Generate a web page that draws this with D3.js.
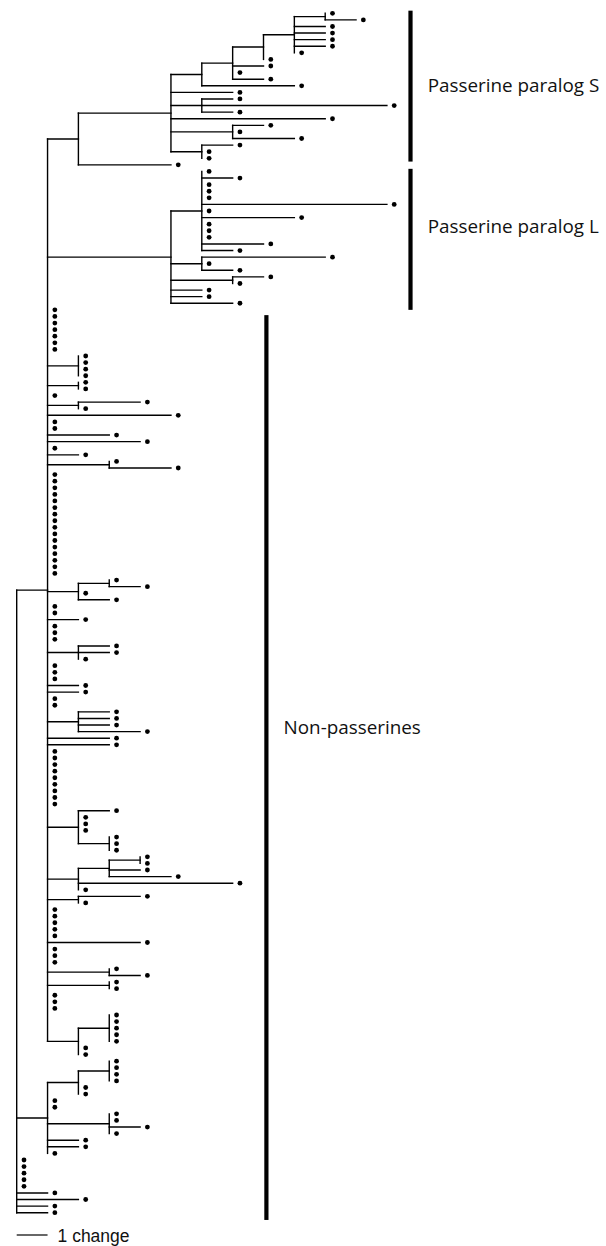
<!DOCTYPE html>
<html><head><meta charset="utf-8">
<script src="https://cdn.jsdelivr.net/npm/d3@7"></script>
<style>html,body{margin:0;padding:0;background:#fff;} svg{display:block;}</style>
</head><body>
<svg id="chart" width="606" height="1246"></svg>
<script>
// ---------------- DATA (branch lengths in "changes", Newick) ----------------
// Passerine paralog S clade
const cladeS = "(((((((:0,:1):1,:1,:1,:1,:1,:0):1,:0):1,:1,:0,:1):1,:3):1,:2,(:1,:6,:1):1,:5,(:1,:0,:2):2,(:1,:0,:0):1):3,:3)";
// Passerine paralog L clade
const cladeL = "((:0,:1,:0,:0,:0,:6,:0,:3,:0,:0,:0,:2,:1):1,(:4,:0,:1):1,(:1,:0):2,:1,:1,:2)";
// Non-passerine lineages attached to the same node as the passerine clades
const nonPasserinesCore = [
  ":0,:0,:0,:0,:0,:0,:0",
  "(:0,:0,:0,:0):1,(:0,:0):1,:0,(:2,:0):1,:4,:0,:0,:2,:3,:0,:1,(:0,:2):2",
  ":0,:0,:0,:0,:0,:0,:0,:0,:0,:0,:0,:0,:0,:0,:0,:0",
  "((:0,:1):1,:0,:1):1,:0,:0,:1,:0,:0,:0,(:1,:1,:0):1,:0,:0,:0,:1,:1,:0,:0",
  "(:1,:1,:1,:2):1,:2,:2",
  ":0,:0,:0,:0,:0,:0,:0,:0,:0",
  "(:1,:0,:0,:0,(:0,:0,:0):1):1,(((:0,:0):1,:1,:2):1,:5,:0):1,(:2,:0):1",
  ":0,:0,:0,:0,:0,:3,:0,:0,:0,(:0,:1):2,(:0,:0):2,:0,:0,:0",
  "((:0,:0,:0,:0,:0):1,:0,:0):1"
];
// Basal non-passerine clade
const cladeBasal = "(((:0,:0,:0,:0):1,:0,:0):1,:0,:0,(:0,:0,:1,:0):2,:1,:1,:0)";
// Leaves attached directly at the root
const rootLeafLengths = [0, 0, 0, 0, 0, 1, 2, 1, 1];
// Groups: label and leaf-row extent of bracket
const groupLabels = ["Passerine paralog S", "Passerine paralog L", "Non-passerines"];
const groupFirstLeaf = [0, 24, 45];
const groupLastLeaf = [23, 44, 182];
const scaleBarChanges = 1;
const scaleBarLabel = "1 change";

// ---------------- LAYOUT ----------------
const W = 606, H = 1246;
const layout = {
  x0: 16.7, pxPerChange: 30.85,
  yTop: 13.3, yBottom: 1212.7,
  dotOffset: 7.3, dotR: 2.4, stroke: 1.4,
  barPadTop: [-0.4, -0.4, 0.8], barPadBottom: [-0.5, 1.0, 1.1],
  barX: [12.765, 12.765, 8.094], barW: 4.2, labelDx: 17.2,
  labelRow: [12.0, 33.4, 109.3], labelTargetWidth: 171.7
};

function parseNewick(s) {
  let i = 0;
  function node() {
    const n = { children: null, length: 0 };
    if (s[i] === "(") {
      i++; n.children = [];
      while (true) {
        n.children.push(node());
        if (s[i] === ",") { i++; continue; }
        if (s[i] === ")") { i++; break; }
        throw new Error("bad newick at " + i);
      }
    }
    while (i < s.length && !":,)".includes(s[i])) i++;
    if (s[i] === ":") {
      i++; const st = i;
      while (i < s.length && !",)".includes(s[i])) i++;
      n.length = +s.slice(st, i);
    }
    return n;
  }
  return node();
}

const cladeA = `(${cladeS}:1,${cladeL}:4,${nonPasserinesCore.join(",")})`;
const fullTree = `(${cladeA}:1,${cladeBasal}:1,${rootLeafLengths.map(l => ":" + l).join(",")})`;

const root = d3.hierarchy(parseNewick(fullTree), d => d.children);
root.eachBefore(d => { d.len = d.parent ? d.parent.len + d.data.length : 0; });
let leafIdx = 0;
root.eachBefore(d => { if (!d.children) d.row = leafIdx++; });
root.eachAfter(d => { if (d.children) d.row = (d.children[0].row + d.children[d.children.length - 1].row) / 2; });
const nLeaves = leafIdx;

const x = d3.scaleLinear().domain([0, 1]).range([layout.x0, layout.x0 + layout.pxPerChange]);
const y = d3.scaleLinear().domain([0, nLeaves - 1]).range([layout.yTop, layout.yBottom]);

const svg = d3.select("#chart").attr("viewBox", `0 0 ${W} ${H}`);
svg.append("rect").attr("width", W).attr("height", H).attr("fill", "#fff");

const g = svg.append("g");
const nodes = root.descendants();

// horizontal branches
g.append("g").selectAll("path")
  .data(nodes.filter(d => d.parent && d.data.length > 0))
  .join("path")
  .attr("d", d => `M${x(d.parent.len)},${y(d.row)}H${x(d.len)}`)
  .attr("fill", "none").attr("stroke", "#000").attr("stroke-width", layout.stroke)
  .attr("stroke-linecap", "square");

// vertical connectors
g.append("g").selectAll("path")
  .data(nodes.filter(d => d.children))
  .join("path")
  .attr("d", d => `M${x(d.len)},${y(d.children[0].row)}V${y(d.children[d.children.length - 1].row)}`)
  .attr("fill", "none").attr("stroke", "#000").attr("stroke-width", layout.stroke)
  .attr("stroke-linecap", "square");

// leaf dots
g.append("g").selectAll("circle")
  .data(root.leaves())
  .join("circle")
  .attr("cx", d => x(d.len) + layout.dotOffset)
  .attr("cy", d => y(d.row))
  .attr("r", layout.dotR)
  .attr("fill", "#000");

// group bars
const groups = groupLabels.map((label, i) => ({ label, first: groupFirstLeaf[i], last: groupLastLeaf[i], i }));
svg.append("g").selectAll("rect")
  .data(groups)
  .join("rect")
  .attr("x", d => x(layout.barX[d.i]) - layout.barW / 2)
  .attr("y", d => y(d.first + layout.barPadTop[d.i]))
  .attr("width", layout.barW)
  .attr("height", d => y(d.last + layout.barPadBottom[d.i]) - y(d.first + layout.barPadTop[d.i]))
  .attr("fill", "#000");

// group labels (fit font size so widths match the reference)
const labels = svg.append("g").selectAll("text")
  .data(groups)
  .join("text")
  .attr("x", d => x(layout.barX[d.i]) + layout.labelDx)
  .attr("y", d => y(layout.labelRow[d.i]))
  .attr("font-family", "'Open Sans', 'Noto Sans', sans-serif")
  .attr("font-size", 20)
  .attr("fill", "#111")
  .text(d => d.label);
const w0 = labels.nodes()[0].getComputedTextLength();
if (w0 > 0) labels.attr("font-size", 20 * layout.labelTargetWidth / w0);

// scale bar
const sbY = y(nLeaves - 1) + 22.3;
svg.append("line")
  .attr("x1", x(0)).attr("x2", x(scaleBarChanges))
  .attr("y1", sbY).attr("y2", sbY)
  .attr("stroke", "#000").attr("stroke-width", 1.2);
const sbText = svg.append("text")
  .attr("x", x(scaleBarChanges) + 10)
  .attr("y", sbY + 6.7)
  .attr("font-family", "'Liberation Sans', Arial, Helvetica, sans-serif")
  .attr("font-size", 17.5)
  .attr("fill", "#111")
  .text(scaleBarLabel);
</script>
</body></html>
